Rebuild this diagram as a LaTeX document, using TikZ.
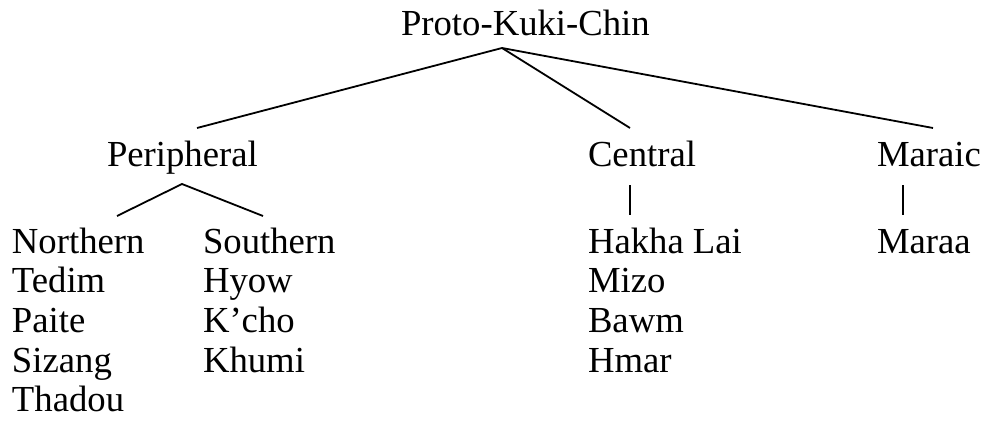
\documentclass[tikz,border=0pt]{standalone}
\usepackage{fontspec}
\setmainfont{Liberation Serif}
\begin{document}
\begin{tikzpicture}[x=1pt,y=-1pt,
  lbl/.style={anchor=base west,inner sep=0pt,outer sep=0pt,font=\fontsize{36.7}{40}\selectfont},
  edge/.style={line width=1.8pt,line cap=butt}]
\useasboundingbox (0,0) rectangle (984,425);
% top
\node[lbl] (pkc) at (401,36) {Proto-Kuki-Chin};
% second level
\node[lbl] (per) at (107,166) {Peripheral};
\node[lbl] (cen) at (588,166) {Central};
\node[lbl] (mar) at (877,166) {Maraic};
% third level
\node[lbl] (nor) at (12,253) {Northern};
\node[lbl] (sou) at (203,253) {Southern};
\node[lbl] (hak) at (588,253) {Hakha Lai};
\node[lbl] (maa) at (877,253) {Maraa};
% lists
\node[lbl] (ted) at (12,292.7) {Tedim};
\node[lbl] (pai) at (12,332.4) {Paite};
\node[lbl] (siz) at (12,372) {Sizang};
\node[lbl] (tha) at (12,411.7) {Thadou};
\node[lbl] (hyo) at (203,292.7) {Hyow};
\node[lbl] (kch) at (203,332.4) {K’cho};
\node[lbl] (khu) at (203,372) {Khumi};
\node[lbl] (miz) at (588,292.7) {Mizo};
\node[lbl] (baw) at (588,332.4) {Bawm};
\node[lbl] (hma) at (588,372) {Hmar};
% connector ends
\coordinate (pkcA) at (502,48);
\coordinate (perT) at (197,128);
\coordinate (cenT) at (630,128);
\coordinate (marT) at (933,128);
\coordinate (perA) at (182,184);
\coordinate (norT) at (117,216);
\coordinate (souT) at (263,216);
\coordinate (cenB) at (630,185);
\coordinate (hakT) at (630,215);
\coordinate (marB) at (903,185);
\coordinate (maaT) at (903,215);
\draw[edge] (perT) -- (pkcA) -- (cenT);
\draw[edge] (pkcA) -- (marT);
\draw[edge] (norT) -- (perA) -- (souT);
\draw[edge] (cenB) -- (hakT);
\draw[edge] (marB) -- (maaT);
\end{tikzpicture}
\end{document}
